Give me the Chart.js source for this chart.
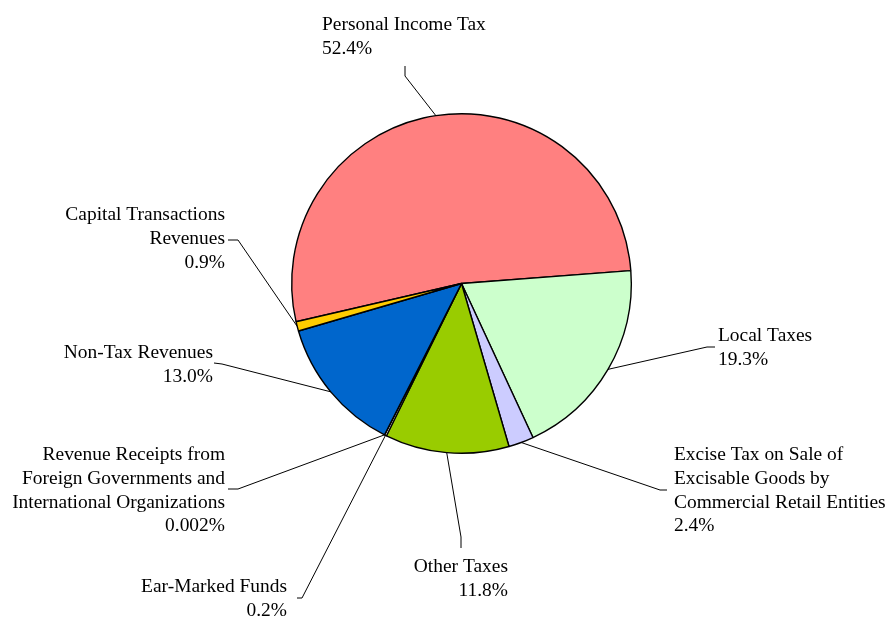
<!DOCTYPE html>
<html>
<head>
<meta charset="utf-8">
<script src="https://cdn.jsdelivr.net/npm/chart.js@4.4.1/dist/chart.umd.min.js"></script>
<style>
  html, body { margin: 0; padding: 0; background: #fff; }
  #wrap { width: 890px; height: 619px; }
</style>
</head>
<body>
<div id="wrap"><canvas id="pie" width="890" height="619"></canvas></div>
<script>
// ---------------------------------------------------------------
// Data (percent shares, clockwise from Personal Income Tax)
// ---------------------------------------------------------------
const categories = [
  "Personal Income Tax",
  "Local Taxes",
  "Excise Tax on Sale of Excisable Goods by Commercial Retail Entities",
  "Other Taxes",
  "Ear-Marked Funds",
  "Revenue Receipts from Foreign Governments and International Organizations",
  "Non-Tax Revenues",
  "Capital Transactions Revenues",
];
const shares = [52.4, 19.3, 2.4, 11.8, 0.2, 0.002, 13.0, 0.9];
const sliceColors = ["#FF8080", "#CCFFCC", "#CCCCFF", "#99CC00", "#FFFFFF", "#FFFFFF", "#0066CC", "#FFCC00"];

// how each label is broken into lines
const labelLines = [
  ["Personal Income Tax"],
  ["Local Taxes"],
  ["Excise Tax on Sale of", "Excisable Goods by", "Commercial Retail Entities"],
  ["Other Taxes"],
  ["Ear-Marked Funds"],
  ["Revenue Receipts from", "Foreign Governments and", "International Organizations"],
  ["Non-Tax Revenues"],
  ["Capital Transactions", "Revenues"],
];

// ---------------------------------------------------------------
// Label layout: text anchor, alignment, leader elbow and end
// ---------------------------------------------------------------
const labelLayout = [
  { x: 322, y: 30,  align: "left",  elbow: [405, 76],  end: [405, 66] },
  { x: 718, y: 341, align: "left",  elbow: [707, 347], end: [715, 347] },
  { x: 674, y: 460, align: "left",  elbow: [660, 490], end: [667, 490] },
  { x: 508, y: 572, align: "right", elbow: [461, 537], end: [461, 548] },
  { x: 287, y: 592, align: "right", elbow: [302, 598], end: [297, 598] },
  { x: 225, y: 460, align: "right", elbow: [238, 489], end: [228, 489] },
  { x: 213, y: 358, align: "right", elbow: [222, 364], end: [214, 363] },
  { x: 225, y: 220, align: "right", elbow: [238, 240], end: [228, 240] },
];
const LINE_H = 23.8;
const FONT = "18px 'Liberation Serif', 'Times New Roman', serif";
const TEXT_STRETCH = 1.08;   // the source font runs a bit wider than Liberation Serif

function pctText(v) {
  return (v < 0.01 ? v.toFixed(3) : v.toFixed(1)) + "%";
}

const calloutPlugin = {
  id: "callouts",
  afterDraw(chart) {
    const ctx = chart.ctx;
    const arcs = chart.getDatasetMeta(0).data;
    ctx.save();
    ctx.font = FONT;
    ctx.fillStyle = "#000";
    ctx.strokeStyle = "#000";
    ctx.lineWidth = 1;
    ctx.textBaseline = "alphabetic";
    arcs.forEach((arc, i) => {
      const p = arc.getProps(["x", "y", "startAngle", "endAngle", "outerRadius"], true);
      const mid = (p.startAngle + p.endAngle) / 2;
      const ax = p.x + Math.cos(mid) * p.outerRadius;
      const ay = p.y + Math.sin(mid) * p.outerRadius;
      const L = labelLayout[i];
      ctx.beginPath();
      ctx.moveTo(ax, ay);
      ctx.lineTo(L.elbow[0], L.elbow[1]);
      ctx.lineTo(L.end[0], L.end[1]);
      ctx.stroke();

      const lines = labelLines[i].concat([pctText(shares[i])]);
      ctx.textAlign = L.align;
      lines.forEach((t, k) => {
        ctx.save();
        ctx.translate(L.x, L.y + k * LINE_H);
        ctx.scale(TEXT_STRETCH, 1);
        ctx.fillText(t, 0, 0);
        ctx.restore();
      });
    });
    ctx.restore();
  },
};

new Chart(document.getElementById("pie"), {
  type: "pie",
  data: {
    labels: categories,
    datasets: [{
      data: shares,
      backgroundColor: sliceColors,
      borderColor: "#000000",
      borderWidth: 1.4,
    }],
  },
  options: {
    responsive: false,
    animation: false,
    rotation: -103.0,
    layout: { padding: { left: 291, right: 258, top: 113, bottom: 165 } },
    plugins: {
      legend: { display: false },
      tooltip: { enabled: false },
    },
  },
  plugins: [calloutPlugin],
});
</script>
</body>
</html>
